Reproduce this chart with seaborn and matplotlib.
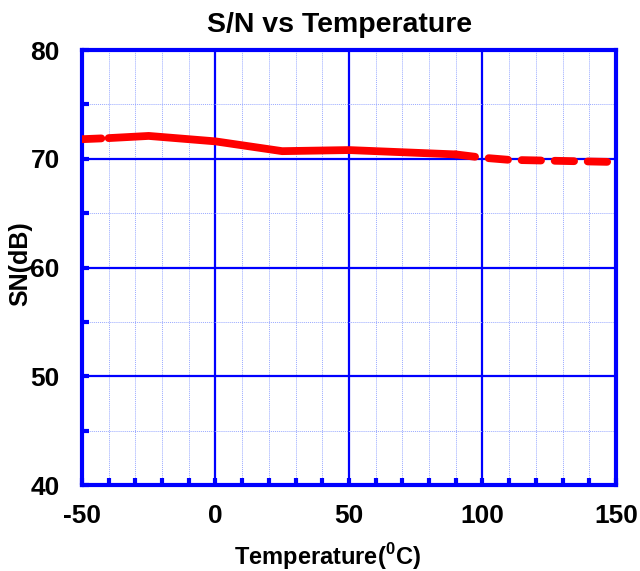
import matplotlib
matplotlib.use("Agg")
import matplotlib.pyplot as plt
from matplotlib.ticker import MultipleLocator
import pandas as pd
import seaborn as sns

# S/N readings taken off the chart
temp_left = [-50, -40]
sn_left = [71.8, 71.9]
temp_mid = [-40, -25, 0, 25, 50, 90]
sn_mid = [71.9, 72.1, 71.6, 70.7, 70.8, 70.4]
temp_right = [90, 100, 110, 150]
sn_right = [70.4, 70.1, 69.9, 69.7]

x_ticks = [-50, 0, 50, 100, 150]
y_ticks = [40, 50, 60, 70, 80]

sns.set_style("white")
plt.rcParams['font.family'] = ['Liberation Sans', 'DejaVu Sans']
plt.rcParams['mathtext.fontset'] = 'custom'
plt.rcParams['mathtext.rm'] = 'Liberation Sans:bold'
plt.rcParams['mathtext.bf'] = 'Liberation Sans:bold'
plt.rcParams['axes.unicode_minus'] = False
plt.rcParams['text.color'] = 'black'
plt.rcParams['axes.labelcolor'] = 'black'
plt.rcParams['xtick.labelcolor'] = 'black'
plt.rcParams['ytick.labelcolor'] = 'black'

blue = '#0000ff'
red = '#ff0000'

fig = plt.figure(figsize=(6.4, 5.71), dpi=100)
ax = fig.add_axes([0.128, 0.1506, 0.8345, 0.7618])

lw = 5.6
for t, s, solid in [(temp_left, sn_left, False), (temp_mid, sn_mid, True), (temp_right, sn_right, False)]:
    df = pd.DataFrame({'temp': t, 'sn': s})
    sns.lineplot(data=df, x='temp', y='sn', ax=ax, color=red, linewidth=lw, zorder=5)
    line = ax.lines[-1]
    line.set_solid_capstyle('round')
    line.set_dash_capstyle('round')
    if not solid:
        line.set_dashes((2.5, 1.75))

ax.set_xlim(-50, 150)
ax.set_ylim(40, 80)
ax.set_xticks(x_ticks)
ax.set_yticks(y_ticks)
ax.xaxis.set_minor_locator(MultipleLocator(10))
ax.yaxis.set_minor_locator(MultipleLocator(5))

ax.grid(True, which='major', color=blue, linewidth=1.6)
ax.grid(True, which='minor', color='#9aaaff', linewidth=0.7, linestyle=(0, (1, 1)))
ax.set_axisbelow(True)

for sp in ax.spines.values():
    sp.set_color(blue)
    sp.set_linewidth(3)
    sp.set_visible(True)

ax.tick_params(which='both', direction='in', color=blue, bottom=True, left=True,
               top=False, right=False)
ax.tick_params(which='major', length=5, width=3, labelsize=19)
ax.tick_params(axis='x', which='major', pad=14)
ax.tick_params(axis='y', which='major', pad=16)
ax.tick_params(which='minor', length=5, width=3)
for lab in ax.get_xticklabels() + ax.get_yticklabels():
    lab.set_fontweight('bold')

ax.set_xlabel('Temperature($^0$C)', fontsize=17, fontweight='bold')
ax.xaxis.set_label_coords(0.459, -0.128)
ax.set_ylabel('SN(dB)', fontsize=18, fontweight='bold')
ax.yaxis.set_label_coords(-0.092, 0.51)
ax.set_title('S/N vs Temperature', fontsize=20.5, fontweight='bold', x=0.483, pad=13)

fig.savefig('out.png', dpi=100)
